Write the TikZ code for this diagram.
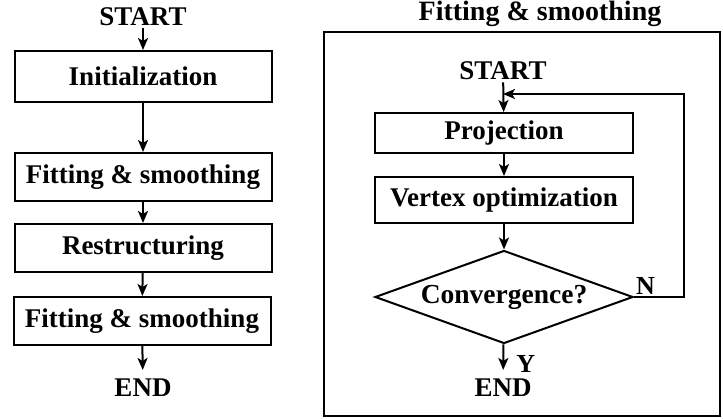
\documentclass[tikz,border=0pt]{standalone}
\usepackage{fontspec}
\setmainfont{Liberation Serif}
\usetikzlibrary{shapes.geometric, arrows.meta, positioning}

\begin{document}
\begin{tikzpicture}[
    x=1pt, y=-1pt,
    arr/.style={-{Stealth[length=12pt, width=10pt, inset=3pt]}, line width=2pt},
    stage/.style={rectangle, draw, line width=2pt, minimum width=257pt, minimum height=48pt, inner sep=0pt, font=\fontsize{27}{30}\selectfont\bfseries},
    term/.style={inner sep=2pt, font=\fontsize{27}{30}\selectfont\bfseries},
    test/.style={diamond, draw, line width=2pt, aspect=2.77, minimum width=258pt, minimum height=93pt, inner sep=0pt, font=\fontsize{27.5}{30}\selectfont\bfseries},
    branch/.style={inner sep=2pt, font=\fontsize{26}{28}\selectfont\bfseries},
]
\useasboundingbox (0,0) rectangle (723,419);

% Overall procedure
\node[term] (start) at (143,17) {START};
\node[stage, minimum height=51pt] (init) at (143,76.5) {Initialization};
\node[stage] (fit1) at (143,177) {Fitting \& smoothing};
\node[stage] (restr) at (143,248) {Restructuring};
\node[stage] (fit2) at (142,321) {Fitting \& smoothing};
\node[term] (end) at (143,388) {END};

\draw[arr] (start) -- (init);
\draw[arr] (init) -- (fit1);
\draw[arr] (fit1) -- (restr);
\draw[arr] (restr) -- (fit2);
\draw[arr, shorten >=7pt] (fit2) -- (end);

% --- Fitting & smoothing ---
\node[term, font=\fontsize{28}{30}\selectfont\bfseries] (title) at (540,14) {Fitting \& smoothing};
\draw[line width=2pt] (324,32) rectangle (720,416);

\node[term] (start2) at (503,71) {START};
\node[stage, minimum width=258pt, minimum height=40pt] (proj) at (504,133) {Projection};
\node[stage, minimum width=258pt, minimum height=46pt] (vert) at (504,200) {Vertex optimization};
\node[test] (conv) at (504,297) {Convergence?};
\node[term] (end2) at (503,388) {END};

\draw[arr] (start2) -- (proj);
\draw[arr] (proj) -- (vert);
\draw[arr] (vert) -- (conv);
\draw[arr, shorten >=7pt] (conv) -- node[branch, anchor=west, pos=0.6, xshift=10pt] (yes) {Y} (end2);

% loop back
\coordinate (merge) at (503,94);
\node[branch, anchor=south west] (no) at (conv.east) {N};
\draw[arr] (conv.east) -- ++(50,0) |- (merge);

\end{tikzpicture}
\end{document}
